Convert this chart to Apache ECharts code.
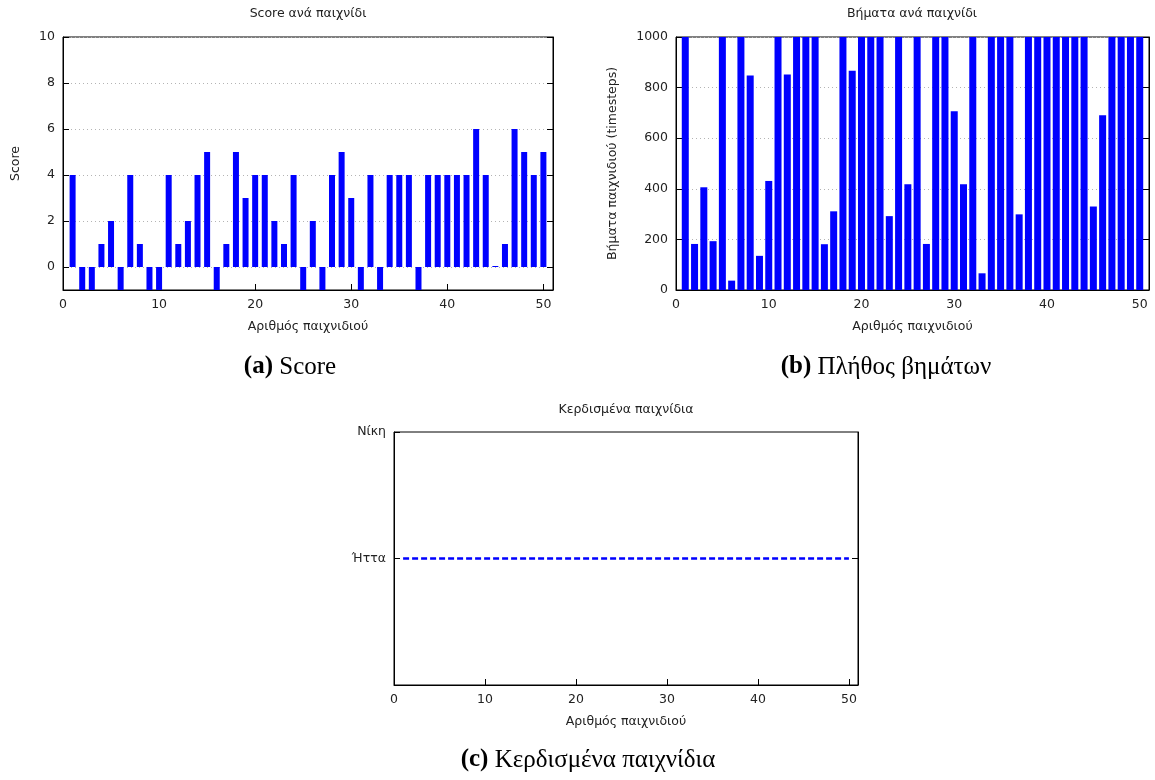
<!DOCTYPE html>
<html>
<head>
<meta charset="utf-8">
<script src="https://cdn.jsdelivr.net/npm/echarts@6/dist/echarts.min.js"></script>
<style>
html,body{margin:0;padding:0;background:#fff;}
#main{width:1155px;height:780px;}
</style>
</head>
<body>
<div id="main"></div>
<script>
const games = [1,2,3,4,5,6,7,8,9,10,11,12,13,14,15,16,17,18,19,20,21,22,23,24,25,26,27,28,29,30,31,32,33,34,35,36,37,38,39,40,41,42,43,44,45,46,47,48,49,50];
const scores = [4,-1,-1,1,2,-1,4,1,-1,-1, 4,1,2,4,5,-1,1,5,3,4, 4,2,1,4,-1,2,-1,4,5,3, -1,4,-1,4,4,4,-1,4,4,4, 4,4,6,4,0,1,6,5,4,5];
const steps = [1000,182,406,193,1000,37,1000,848,135,431, 1000,852,1000,1000,1000,181,311,1000,867,1000, 1000,1000,292,1000,418,1000,182,1000,1000,707, 418,1000,66,1000,1000,1000,299,1000,1000,1000, 1000,1000,1000,1000,330,691,1000,1000,1000,1000];
const wins = [0,0,0,0,0,0,0,0,0,0, 0,0,0,0,0,0,0,0,0,0, 0,0,0,0,0,0,0,0,0,0, 0,0,0,0,0,0,0,0,0,0, 0,0,0,0,0,0,0,0,0,0];
const xTicks = [0,10,20,30,40,50];
const scoreTicks = [0,2,4,6,8,10];
const stepTicks = [0,200,400,600,800,1000];
const winTicks = [0,1];
const winLabels = {'0':'Ήττα', '1':'Νίκη'};
const titles = ['Score ανά παιχνίδι','Βήματα ανά παιχνίδι','Κερδισμένα παιχνίδια'];
const xName = 'Αριθμός παιχνιδιού';
const yNames = ['Score','Βήματα παιχνιδιού (timesteps)'];
const captions = [['(a)',' Score'],['(b)',' Πλήθος βημάτων'],['(c)',' Κερδισμένα παιχνίδια']];

const FONT = 'DejaVu Sans';
const FS = 12.5;
const TXT = '#222';
const BLUE = '#0000ff';
const CAP = 25;

const chart = echarts.init(document.getElementById('main'), null, {renderer:'canvas'});

function xAxisDef(gi){
  return {
    type:'value', gridIndex:gi, min:0, max:51,
    name:xName, nameLocation:'middle', nameGap:30,
    nameTextStyle:{fontFamily:FONT,fontSize:FS,color:TXT},
    axisLine:{show:true,onZero:false,lineStyle:{color:'#000',width:1}},
    axisTick:{show:true,inside:true,length:6,customValues:xTicks,lineStyle:{color:'#000'}},
    axisLabel:{customValues:xTicks,fontFamily:FONT,fontSize:FS,color:TXT,margin:8},
    splitLine:{show:false}
  };
}
function yAxisDef(gi,min,max,ticks,opts){
  return Object.assign({
    type:'value', gridIndex:gi, min:min, max:max, position:'left',
    axisLine:{show:true,onZero:false,lineStyle:{color:'#000',width:1}},
    axisTick:{show:true,inside:true,length:6,customValues:ticks,lineStyle:{color:'#000'}},
    axisLabel:{customValues:ticks,fontFamily:FONT,fontSize:FS,color:TXT,margin:8,formatter:function(v){return String(v);}},
    splitLine:{show:false}
  }, opts||{});
}
function mirrorY(gi,min,max,ticks){
  return {
    type:'value', gridIndex:gi, min:min, max:max, position:'right',
    axisLine:{show:true,onZero:false,lineStyle:{color:'#000',width:1}},
    axisTick:{show:true,inside:true,length:6,customValues:ticks,lineStyle:{color:'#000'}},
    axisLabel:{show:false},
    splitLine:{show:false}
  };
}
const gridLine = {show:true,lineStyle:{color:'#b4b4b4',type:[1,3],width:1}};
const capRich = {
  b:{fontFamily:'Liberation Serif',fontSize:CAP,fontWeight:'bold',fill:'#000'},
  n:{fontFamily:'Liberation Serif',fontSize:CAP,fill:'#000'}
};
function capText(x,y,c){
  return {type:'text', x:x, y:y, style:{text:'{b|'+c[0]+'}{n|'+c[1]+'}', textAlign:'center', textVerticalAlign:'middle', rich:capRich}};
}
function titleText(x,y,t){
  return {type:'text', x:x, y:y, style:{text:t, font:FS+'px "'+FONT+'"', fill:TXT, textAlign:'center', textVerticalAlign:'middle'}};
}

const yWin = yAxisDef(2,-1,1,winTicks);
yWin.axisLabel.formatter = function(v){return winLabels[String(v)]||'';};

const option = {
  animation:false,
  backgroundColor:'#fff',
  grid:[
    {left:63, top:37, width:490, height:253, show:true, borderColor:'#000', borderWidth:1, backgroundColor:'transparent'},
    {left:676, top:37, width:473, height:253, show:true, borderColor:'#000', borderWidth:1, backgroundColor:'transparent'},
    {left:394, top:432, width:464, height:253, show:true, borderColor:'#000', borderWidth:1, backgroundColor:'transparent'}
  ],
  xAxis:[xAxisDef(0), xAxisDef(1), xAxisDef(2)],
  yAxis:[
    yAxisDef(0,-1,10,scoreTicks,{name:yNames[0],nameLocation:'middle',nameGap:41,nameTextStyle:{fontFamily:FONT,fontSize:FS,color:TXT},splitLine:gridLine}),
    yAxisDef(1,0,1000,stepTicks,{name:yNames[1],nameLocation:'middle',nameGap:57,nameTextStyle:{fontFamily:FONT,fontSize:FS,color:TXT},splitLine:gridLine}),
    yWin,
    mirrorY(0,-1,10,scoreTicks),
    mirrorY(1,0,1000,stepTicks),
    mirrorY(2,-1,1,[0])
  ],
  series:[
    {type:'bar', xAxisIndex:0, yAxisIndex:0, barWidth:6, barMinHeight:1,
     itemStyle:{color:BLUE}, data:games.map((g,i)=>[g,scores[i]])},
    {type:'bar', xAxisIndex:1, yAxisIndex:1, barWidth:7,
     itemStyle:{color:BLUE}, data:games.map((g,i)=>[g,steps[i]])},
    {type:'line', xAxisIndex:2, yAxisIndex:2, showSymbol:false, symbol:'none',
     lineStyle:{color:BLUE,width:2.6,type:[6,3]}, data:games.map((g,i)=>[g,wins[i]])}
  ],
  graphic:[
    titleText(308,14,titles[0]),
    titleText(912,14,titles[1]),
    titleText(626,410,titles[2]),
    capText(290,367,captions[0]),
    capText(886,367,captions[1]),
    capText(588,760,captions[2])
  ]
};
chart.setOption(option);
</script>
</body>
</html>
